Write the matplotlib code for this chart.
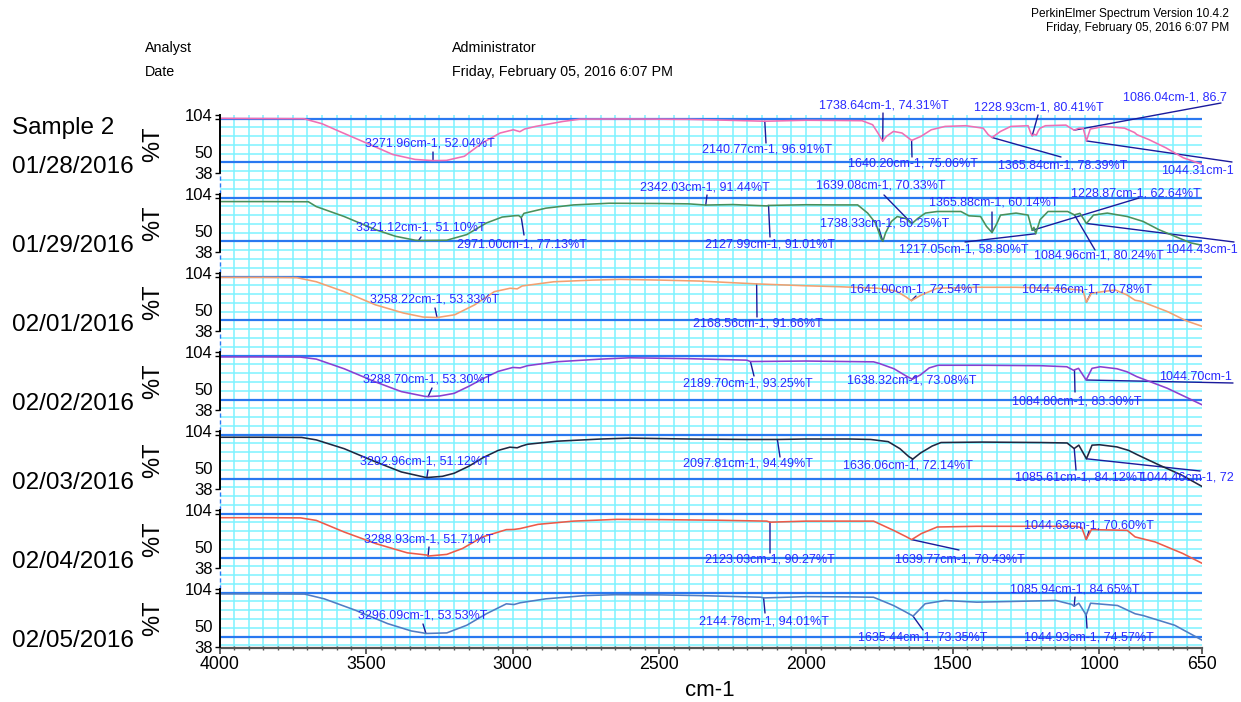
import matplotlib
matplotlib.use("Agg")
import matplotlib.pyplot as plt
from matplotlib.ticker import MultipleLocator, FixedLocator
from matplotlib.transforms import blended_transform_factory

plt.rcParams['font.family'] = ['Liberation Sans', 'DejaVu Sans']

# ---------------- data ----------------
dates = ["01/28/2016", "01/29/2016", "02/01/2016", "02/02/2016",
         "02/03/2016", "02/04/2016", "02/05/2016"]
x_ticks = [4000, 3500, 3000, 2500, 2000, 1500, 1000, 650]

wn_0128 = [4000, 3850, 3713, 3650, 3591, 3500, 3409, 3333, 3272, 3226, 3165, 3105, 3043, 2998,
           2976, 2960, 2922, 2830, 2770, 2600, 2400, 2300, 2141, 2000, 1900, 1809, 1773, 1755,
           1739, 1726, 1702, 1673, 1640, 1608, 1573, 1526, 1455, 1396, 1379, 1366, 1337, 1302,
           1243, 1234, 1229, 1222, 1215, 1208, 1202, 1184, 1114, 1086, 1070, 1055, 1044, 1031,
           984, 914, 880, 872, 831, 773, 714, 666, 650]
t_0128 = [100.2, 100.0, 99.8, 94.0, 85.3, 72.2, 59.0, 53.4, 52.04, 52.3, 57.0, 72.0, 83.5, 87.2,
          85.0, 88.0, 91.0, 96.6, 99.3, 99.5, 99.0, 98.3, 96.91, 98.0, 97.8, 97.5, 92.9, 83.5,
          74.31, 79.7, 85.3, 83.5, 75.06, 79.7, 87.2, 91.0, 91.8, 89.0, 81.6, 78.39, 85.3, 91.0,
          91.8, 83.5, 80.41, 82.0, 81.0, 86.0, 89.0, 91.8, 92.5, 86.72, 89.0, 89.0, 74.5, 88.0,
          91.0, 89.0, 84.0, 81.6, 76.0, 66.6, 55.3, 49.7, 48.0]

wn_0129 = [4000, 3850, 3697, 3670, 3575, 3468, 3400, 3333, 3321, 3225, 3157, 3090, 3036, 2996,
           2980, 2971, 2962, 2887, 2793, 2672, 2500, 2400, 2342, 2250, 2134, 2128, 2000, 1900,
           1824, 1790, 1763, 1743, 1738, 1729, 1709, 1689, 1660, 1639, 1620, 1593, 1553, 1472,
           1445, 1405, 1385, 1366, 1350, 1337, 1284, 1243, 1229, 1223, 1217, 1202, 1175, 1108,
           1085, 1066, 1044, 1020, 973, 905, 851, 797, 743, 689, 662, 650]
t_0129 = [95.4, 95.4, 95.2, 89.7, 78.4, 63.4, 55.9, 51.4, 51.10, 51.4, 57.8, 71.0, 77.8, 79.2,
          79.5, 77.13, 82.0, 87.9, 91.6, 93.5, 93.2, 92.8, 91.44, 92.0, 90.5, 91.01, 91.8, 91.6,
          91.6, 82.3, 71.0, 52.1, 50.25, 59.7, 72.8, 78.4, 76.0, 70.33, 76.0, 82.3, 84.1, 84.1,
          79.2, 78.4, 67.2, 60.14, 70.0, 80.0, 82.3, 80.0, 62.64, 66.0, 58.80, 74.8, 84.1, 84.1,
          80.24, 82.0, 70.5, 80.0, 82.3, 78.4, 72.8, 63.4, 55.9, 48.4, 46.5, 45.5]

wn_0201 = [4000, 3850, 3737, 3670, 3575, 3468, 3373, 3306, 3258, 3198, 3130, 3063, 3009, 2985,
           2968, 2860, 2726, 2634, 2500, 2364, 2250, 2169, 2000, 1891, 1756, 1700, 1689, 1660,
           1641, 1607, 1553, 1418, 1284, 1148, 1067, 1055, 1044, 1027, 946, 906, 878, 860, 769,
           703, 650]
t_0201 = [99.1, 99.1, 98.8, 94.1, 82.8, 67.8, 58.5, 53.9, 53.33, 56.5, 67.8, 82.8, 86.7, 86.0,
          89.3, 94.1, 96.0, 96.8, 96.0, 94.9, 93.0, 91.66, 89.5, 88.5, 86.7, 84.0, 82.8, 77.0,
          72.54, 79.0, 86.7, 87.8, 87.8, 86.7, 84.8, 83.0, 70.78, 81.0, 84.8, 79.1, 73.0, 72.0,
          60.3, 49.5, 43.4]

wn_0202 = [4000, 3850, 3724, 3670, 3575, 3468, 3380, 3300, 3289, 3250, 3200, 3150, 3100, 3050,
           3000, 2975, 2950, 2850, 2700, 2600, 2400, 2202, 2190, 2000, 1800, 1770, 1750, 1700,
           1660, 1638, 1610, 1580, 1550, 1400, 1200, 1111, 1088, 1071, 1045, 1025, 997, 940,
           906, 872, 769, 700, 650]
t_0202 = [98.5, 98.5, 98.3, 96.0, 85.0, 70.0, 59.0, 53.6, 53.30, 54.0, 57.0, 65.0, 74.0, 82.0,
          86.5, 86.0, 88.5, 93.0, 96.0, 97.5, 96.5, 94.8, 93.25, 93.8, 93.0, 92.9, 91.0, 85.0,
          77.0, 73.08, 78.0, 86.0, 89.0, 89.0, 88.5, 87.3, 83.30, 85.5, 72.2, 85.5, 87.3, 85.0,
          81.6, 76.0, 62.9, 52.0, 44.0]

wn_0203 = [4000, 3850, 3720, 3670, 3575, 3468, 3380, 3300, 3293, 3240, 3200, 3150, 3100, 3050,
           3010, 2985, 2970, 2950, 2850, 2700, 2600, 2400, 2200, 2098, 2000, 1850, 1780, 1720,
           1680, 1650, 1636, 1610, 1570, 1540, 1400, 1200, 1110, 1086, 1070, 1044, 1025, 1000,
           940, 900, 870, 800, 720, 650]
t_0203 = [97.0, 97.0, 96.8, 94.0, 84.0, 69.0, 57.5, 51.5, 51.12, 52.5, 56.0, 64.0, 74.0, 82.0,
          85.7, 85.0, 87.0, 89.0, 92.5, 95.0, 96.0, 95.0, 94.5, 94.49, 95.0, 95.0, 94.5, 92.0,
          84.0, 75.0, 72.14, 79.0, 87.0, 91.0, 91.5, 91.0, 90.5, 84.12, 88.0, 72.5, 88.0, 88.5,
          86.0, 82.0, 77.0, 66.0, 54.0, 41.0]

wn_0204 = [4000, 3850, 3724, 3670, 3575, 3468, 3360, 3292, 3289, 3225, 3171, 3103, 3022, 2996,
           2975, 2914, 2793, 2645, 2500, 2300, 2134, 2123, 2000, 1850, 1770, 1702, 1660, 1640,
           1607, 1553, 1418, 1200, 1081, 1060, 1045, 1027, 905, 878, 810, 716, 650]
t_0204 = [95.4, 95.4, 95.2, 92.3, 79.1, 66.0, 55.4, 52.8, 51.71, 53.6, 60.4, 73.5, 81.8, 82.0,
          83.0, 87.8, 91.5, 93.5, 93.2, 92.5, 91.5, 90.27, 91.5, 91.5, 91.5, 81.0, 74.0, 70.43,
          77.3, 84.8, 85.6, 85.6, 85.6, 84.0, 70.60, 81.8, 81.0, 73.5, 67.8, 54.7, 43.5]

wn_0205 = [4000, 3850, 3710, 3643, 3535, 3427, 3346, 3306, 3296, 3225, 3157, 3090, 3022, 2996,
           2975, 2887, 2753, 2650, 2500, 2364, 2154, 2145, 2000, 1850, 1770, 1702, 1660, 1635,
           1594, 1526, 1418, 1300, 1148, 1094, 1086, 1070, 1045, 1030, 938, 878, 851, 743, 650]
t_0205 = [98.6, 98.6, 98.4, 93.0, 79.8, 64.8, 56.4, 54.2, 53.53, 54.2, 62.9, 76.0, 87.3, 86.5,
          88.5, 93.0, 96.7, 97.7, 97.5, 96.7, 94.8, 94.01, 95.5, 95.2, 94.8, 85.4, 78.0, 73.35,
          87.4, 91.1, 89.2, 90.0, 91.1, 86.6, 84.65, 88.0, 74.57, 88.0, 85.4, 76.0, 74.0, 62.9,
          46.0]

# labelled peaks per spectrum (cm-1, %T)
peaks_0128 = [(3271.96, 52.04), (2140.77, 96.91), (1738.64, 74.31), (1640.20, 75.06),
              (1365.84, 78.39), (1228.93, 80.41), (1086.04, 86.72), (1044.31, 74.50)]
peaks_0129 = [(2342.03, 91.44), (3321.12, 51.10), (2971.00, 77.13), (2127.99, 91.01),
              (1639.08, 70.33), (1738.33, 50.25), (1365.88, 60.14), (1228.87, 62.64),
              (1217.05, 58.80), (1084.96, 80.24), (1044.43, 70.50)]
peaks_0201 = [(3258.22, 53.33), (2168.56, 91.66), (1641.00, 72.54), (1044.46, 70.78)]
peaks_0202 = [(3288.70, 53.30), (2189.70, 93.25), (1638.32, 73.08), (1084.80, 83.30),
              (1044.70, 72.20)]
peaks_0203 = [(3292.96, 51.12), (2097.81, 94.49), (1636.06, 72.14), (1085.61, 84.12),
              (1044.46, 72.50)]
peaks_0204 = [(3288.93, 51.71), (2123.03, 90.27), (1639.77, 70.43), (1044.63, 70.60)]
peaks_0205 = [(3296.09, 53.53), (2144.78, 94.01), (1635.44, 73.35), (1085.94, 84.65),
              (1044.93, 74.57)]

# ---------------- layout / style ----------------
W, H = 1241, 702
spectra = [(wn_0128, t_0128), (wn_0129, t_0129), (wn_0201, t_0201), (wn_0202, t_0202),
           (wn_0203, t_0203), (wn_0204, t_0204), (wn_0205, t_0205)]
peaks = [peaks_0128, peaks_0129, peaks_0201, peaks_0202, peaks_0203, peaks_0204, peaks_0205]
colors = ['#f06eb4', '#4a8f5a', '#f4a070', '#8a3fd0', '#1f2740', '#ee5a48', '#4f7cc4']

# label text (left, centre y), leader end (image pixels), characters shown (None = all;
# labels running off the page's right edge show only their visible part)
label_layout = [
    [((365, 144), (433, 152), None), ((702, 149), (766, 143), None),
     ((819, 106), (883, 113), None), ((848, 164), (912, 157), None),
     ((998, 165), (1061, 157), None), ((974, 107), (1038, 115), None),
     ((1123, 97), (1221, 103), 17), ((1161, 171), (1232, 162), 11)],
    [((640, 187), (707, 195), None), ((356, 228), (421, 237), None),
     ((457, 245), (524, 235), None), ((705, 245), (770, 237), None),
     ((816, 186), (884, 195), None), ((820, 223), (879, 229), None),
     ((929, 203), (992, 212), None), ((1071, 193), (1139, 198), None),
     ((899, 250), (965, 242), None), ((1034, 255), (1095, 250), None),
     ((1165, 250), (1234, 242), 11)],
    [((370, 299), (435, 308), None), ((693, 323), (757, 317), None),
     ((850, 289), (916, 296), None), ((1022, 289), (1091, 293), None)],
    [((363, 380), (432, 388), None), ((683, 383), (754, 376), None),
     ((847, 381), (915, 376), None), ((1012, 402), (1075, 392), None),
     ((1159, 377), (1233, 383), 11)],
    [((360, 462), (428, 470), None), ((683, 464), (780, 457), None),
     ((843, 466), (912, 460), None), ((1015, 478), (1076, 470), None),
     ((1140, 478), (1200, 471), 15)],
    [((364, 539), (429, 547), None), ((705, 560), (770, 553), None),
     ((895, 559), (959, 550), None), ((1024, 526), (1089, 531), None)],
    [((358, 616), (423, 624), None), ((699, 621), (765, 613), None),
     ((858, 637), (923, 630), None), ((1010, 589), (1075, 597), None),
     ((1024, 637), (1087, 628), None)],
]

D = 90.0                 # vertical offset between stacked spectra
n = len(spectra)
grid_c = '#7df3ff'
band_c = '#2a78f0'
lab_c = '#2b2bff'
lead_c = '#1a1a9c'

fig = plt.figure(figsize=(W / 100, H / 100), dpi=100)
fig.patch.set_facecolor('white')
ax = fig.add_axes([219.5 / W, 1 - 648 / H, (1202 - 219.5) / W, (648 - 115) / H])
ax.set_xlim(4000, 650)
ax.set_ylim(37, 104 + (n - 1) * D)

# cyan grid
for xv in range(700, 4000, 50):
    ax.axvline(xv, color=grid_c, lw=1.1, zorder=1)
y = 40
while y < 104 + (n - 1) * D:
    ax.axhline(y, color=grid_c, lw=1.1, zorder=1)
    y += 10

bl = blended_transform_factory(ax.transAxes, ax.transData)
bf = blended_transform_factory(fig.transFigure, ax.transData)
yt, ytl, ymin = [], [], []
for k, ((wn, tt), col) in enumerate(zip(spectra, colors)):
    off = (n - 1 - k) * D
    ax.axhline(100 + off, color=band_c, lw=1.6, zorder=2)
    ax.axhline(50 + off, color=band_c, lw=1.6, zorder=2)
    ax.plot(wn, [v + off for v in tt], color=col, lw=1.15, zorder=4)
    yt += [38 + off, 104 + off]
    ytl += ['38', '104']
    ymin.append(100 + off)
    # axis segment for this strip
    ax.plot([0, 0], [38 + off, 104 + off], transform=bl, color='black', lw=1.4,
            clip_on=False, zorder=6)
    if k < n - 1:
        ax.plot([0, 0], [104 + off - D, 38 + off], transform=bl, color=band_c, lw=1.0,
                ls=(0, (3, 2)), clip_on=False, zorder=6)
    ax.annotate('50', xy=(0, 50 + off), xycoords=bl, xytext=(-6.5, 1.5),
                textcoords='offset pixels', ha='right', va='bottom', fontsize=12)
    # peak labels
    for (pw, pt), ((tx, ty), (ex, ey), nshow) in zip(peaks[k], label_layout[k]):
        txt = f"{pw:.2f}cm-1, {pt:.2f}%T"
        if nshow is not None:
            txt = txt[:nshow]
        fig.text(tx / W, 1 - ty / H, txt, ha='left', va='center',
                 fontsize=9, color=lab_c, zorder=7)
        ax.annotate('', xy=(pw, pt + off), xycoords='data', xytext=(ex / W, 1 - ey / H),
                    textcoords='figure fraction', annotation_clip=False,
                    arrowprops=dict(arrowstyle='-', color=lead_c, lw=1.0,
                                    shrinkA=0, shrinkB=0))
    # strip titles
    fig.text(153 / W, 71 + off, '%T', transform=bf, rotation=90, ha='center', va='center',
             fontsize=17)
    fig.text(12 / W, 45 + off, dates[k], transform=bf, ha='left', va='center', fontsize=17.5)
    if k == 0:
        fig.text(12 / W, 89 + off, 'Sample 2', transform=bf, ha='left', va='center',
                 fontsize=17.5)

ax.yaxis.set_major_locator(FixedLocator(yt))
ax.set_yticklabels(ytl)
ax.yaxis.set_minor_locator(FixedLocator(ymin))
ax.tick_params(axis='y', which='major', direction='out', length=3.5, width=1.0, pad=1.5,
               labelsize=12)
ax.tick_params(axis='y', which='minor', direction='out', length=3.5, width=1.0)

ax.set_xticks(x_ticks)
ax.set_xticklabels([str(v) for v in x_ticks])
ax.xaxis.set_minor_locator(MultipleLocator(50))
ax.tick_params(axis='x', which='major', direction='out', length=4, width=1.2, pad=2,
               labelsize=12.8, color='#444444')
ax.tick_params(axis='x', which='minor', direction='inout', length=3, width=1.0,
               color='#555555')
for s in ['top', 'right', 'left']:
    ax.spines[s].set_visible(False)
ax.spines['bottom'].set_color('#555555')
ax.spines['bottom'].set_linewidth(1.6)

fig.text(710 / W, 1 - 690 / H, 'cm-1', ha='center', va='center', fontsize=16)

# header
fig.text(145 / W, 1 - 48 / H, 'Analyst', ha='left', va='center', fontsize=10.3)
fig.text(145 / W, 1 - 72 / H, 'Date', ha='left', va='center', fontsize=10.3)
fig.text(452 / W, 1 - 48 / H, 'Administrator', ha='left', va='center', fontsize=10.3)
fig.text(452 / W, 1 - 72 / H, 'Friday, February 05, 2016 6:07 PM', ha='left', va='center',
         fontsize=10.3)
fig.text(1229 / W, 1 - 14 / H, 'PerkinElmer Spectrum Version 10.4.2', ha='right',
         va='center', fontsize=8.6)
fig.text(1229 / W, 1 - 28.5 / H, 'Friday, February 05, 2016 6:07 PM', ha='right',
         va='center', fontsize=8.6)

fig.savefig('out.png', dpi=100)
